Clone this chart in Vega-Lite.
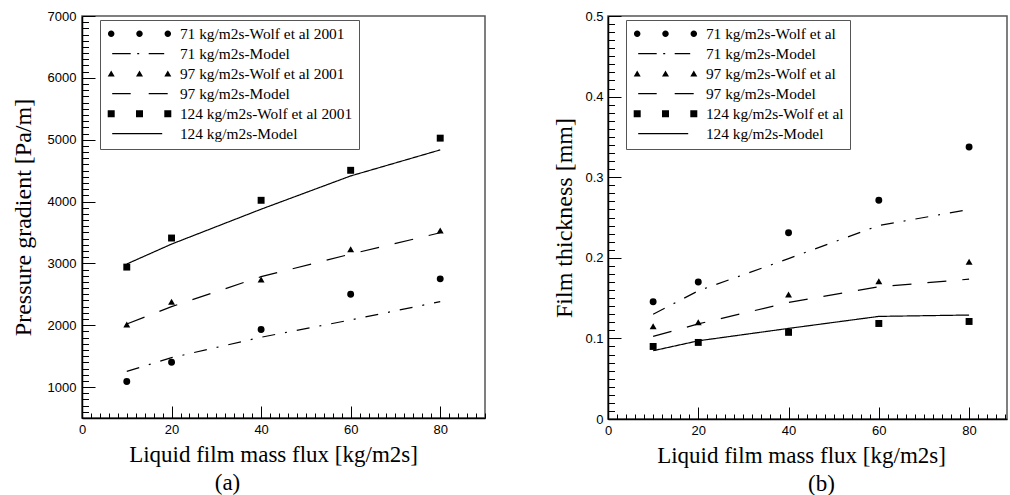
{
  "$schema": "https://vega.github.io/schema/vega-lite/v6.json",
  "padding": {"left": 10, "top": 9, "right": 0, "bottom": 0},
  "background": "white",
  "datasets": {
    "pressure": [
      {"flux": 10, "value": 1090, "series": "71 kg/m2s-Wolf et al 2001", "kind": "Wolf", "marker": "circle"},
      {"flux": 20, "value": 1400, "series": "71 kg/m2s-Wolf et al 2001", "kind": "Wolf", "marker": "circle"},
      {"flux": 40, "value": 1930, "series": "71 kg/m2s-Wolf et al 2001", "kind": "Wolf", "marker": "circle"},
      {"flux": 60, "value": 2500, "series": "71 kg/m2s-Wolf et al 2001", "kind": "Wolf", "marker": "circle"},
      {"flux": 80, "value": 2750, "series": "71 kg/m2s-Wolf et al 2001", "kind": "Wolf", "marker": "circle"},
      {"flux": 10, "value": 1253, "series": "71 kg/m2s-Model", "kind": "Model", "marker": "none"},
      {"flux": 20, "value": 1475, "series": "71 kg/m2s-Model", "kind": "Model", "marker": "none"},
      {"flux": 40, "value": 1806, "series": "71 kg/m2s-Model", "kind": "Model", "marker": "none"},
      {"flux": 60, "value": 2085, "series": "71 kg/m2s-Model", "kind": "Model", "marker": "none"},
      {"flux": 80, "value": 2382, "series": "71 kg/m2s-Model", "kind": "Model", "marker": "none"},
      {"flux": 10, "value": 2010, "series": "97 kg/m2s-Wolf et al 2001", "kind": "Wolf", "marker": "triangle"},
      {"flux": 20, "value": 2380, "series": "97 kg/m2s-Wolf et al 2001", "kind": "Wolf", "marker": "triangle"},
      {"flux": 40, "value": 2740, "series": "97 kg/m2s-Wolf et al 2001", "kind": "Wolf", "marker": "triangle"},
      {"flux": 60, "value": 3230, "series": "97 kg/m2s-Wolf et al 2001", "kind": "Wolf", "marker": "triangle"},
      {"flux": 80, "value": 3530, "series": "97 kg/m2s-Wolf et al 2001", "kind": "Wolf", "marker": "triangle"},
      {"flux": 10, "value": 2020, "series": "97 kg/m2s-Model", "kind": "Model", "marker": "none"},
      {"flux": 20, "value": 2300, "series": "97 kg/m2s-Model", "kind": "Model", "marker": "none"},
      {"flux": 40, "value": 2785, "series": "97 kg/m2s-Model", "kind": "Model", "marker": "none"},
      {"flux": 60, "value": 3150, "series": "97 kg/m2s-Model", "kind": "Model", "marker": "none"},
      {"flux": 80, "value": 3495, "series": "97 kg/m2s-Model", "kind": "Model", "marker": "none"},
      {"flux": 10, "value": 2940, "series": "124 kg/m2s-Wolf et al 2001", "kind": "Wolf", "marker": "square"},
      {"flux": 20, "value": 3410, "series": "124 kg/m2s-Wolf et al 2001", "kind": "Wolf", "marker": "square"},
      {"flux": 40, "value": 4020, "series": "124 kg/m2s-Wolf et al 2001", "kind": "Wolf", "marker": "square"},
      {"flux": 60, "value": 4505, "series": "124 kg/m2s-Wolf et al 2001", "kind": "Wolf", "marker": "square"},
      {"flux": 80, "value": 5025, "series": "124 kg/m2s-Wolf et al 2001", "kind": "Wolf", "marker": "square"},
      {"flux": 10, "value": 2990, "series": "124 kg/m2s-Model", "kind": "Model", "marker": "none"},
      {"flux": 20, "value": 3312, "series": "124 kg/m2s-Model", "kind": "Model", "marker": "none"},
      {"flux": 40, "value": 3876, "series": "124 kg/m2s-Model", "kind": "Model", "marker": "none"},
      {"flux": 60, "value": 4414, "series": "124 kg/m2s-Model", "kind": "Model", "marker": "none"},
      {"flux": 80, "value": 4835, "series": "124 kg/m2s-Model", "kind": "Model", "marker": "none"}
    ],
    "film": [
      {"flux": 10, "value": 0.1455, "series": "71 kg/m2s-Wolf et al", "kind": "Wolf", "marker": "circle"},
      {"flux": 20, "value": 0.170, "series": "71 kg/m2s-Wolf et al", "kind": "Wolf", "marker": "circle"},
      {"flux": 40, "value": 0.231, "series": "71 kg/m2s-Wolf et al", "kind": "Wolf", "marker": "circle"},
      {"flux": 60, "value": 0.2715, "series": "71 kg/m2s-Wolf et al", "kind": "Wolf", "marker": "circle"},
      {"flux": 80, "value": 0.3375, "series": "71 kg/m2s-Wolf et al", "kind": "Wolf", "marker": "circle"},
      {"flux": 10, "value": 0.130, "series": "71 kg/m2s-Model", "kind": "Model", "marker": "none"},
      {"flux": 20, "value": 0.159, "series": "71 kg/m2s-Model", "kind": "Model", "marker": "none"},
      {"flux": 40, "value": 0.199, "series": "71 kg/m2s-Model", "kind": "Model", "marker": "none"},
      {"flux": 60, "value": 0.240, "series": "71 kg/m2s-Model", "kind": "Model", "marker": "none"},
      {"flux": 80, "value": 0.260, "series": "71 kg/m2s-Model", "kind": "Model", "marker": "none"},
      {"flux": 10, "value": 0.115, "series": "97 kg/m2s-Wolf et al", "kind": "Wolf", "marker": "triangle"},
      {"flux": 20, "value": 0.120, "series": "97 kg/m2s-Wolf et al", "kind": "Wolf", "marker": "triangle"},
      {"flux": 40, "value": 0.1545, "series": "97 kg/m2s-Wolf et al", "kind": "Wolf", "marker": "triangle"},
      {"flux": 60, "value": 0.171, "series": "97 kg/m2s-Wolf et al", "kind": "Wolf", "marker": "triangle"},
      {"flux": 80, "value": 0.195, "series": "97 kg/m2s-Wolf et al", "kind": "Wolf", "marker": "triangle"},
      {"flux": 10, "value": 0.1025, "series": "97 kg/m2s-Model", "kind": "Model", "marker": "none"},
      {"flux": 20, "value": 0.118, "series": "97 kg/m2s-Model", "kind": "Model", "marker": "none"},
      {"flux": 40, "value": 0.1445, "series": "97 kg/m2s-Model", "kind": "Model", "marker": "none"},
      {"flux": 60, "value": 0.164, "series": "97 kg/m2s-Model", "kind": "Model", "marker": "none"},
      {"flux": 80, "value": 0.1735, "series": "97 kg/m2s-Model", "kind": "Model", "marker": "none"},
      {"flux": 10, "value": 0.090, "series": "124 kg/m2s-Wolf et al", "kind": "Wolf", "marker": "square"},
      {"flux": 20, "value": 0.095, "series": "124 kg/m2s-Wolf et al", "kind": "Wolf", "marker": "square"},
      {"flux": 40, "value": 0.1075, "series": "124 kg/m2s-Wolf et al", "kind": "Wolf", "marker": "square"},
      {"flux": 60, "value": 0.1185, "series": "124 kg/m2s-Wolf et al", "kind": "Wolf", "marker": "square"},
      {"flux": 80, "value": 0.121, "series": "124 kg/m2s-Wolf et al", "kind": "Wolf", "marker": "square"},
      {"flux": 10, "value": 0.0847, "series": "124 kg/m2s-Model", "kind": "Model", "marker": "none"},
      {"flux": 20, "value": 0.097, "series": "124 kg/m2s-Model", "kind": "Model", "marker": "none"},
      {"flux": 40, "value": 0.1124, "series": "124 kg/m2s-Model", "kind": "Model", "marker": "none"},
      {"flux": 60, "value": 0.1273, "series": "124 kg/m2s-Model", "kind": "Model", "marker": "none"},
      {"flux": 80, "value": 0.129, "series": "124 kg/m2s-Model", "kind": "Model", "marker": "none"}
    ]
  },
  "config": {
    "view": {"stroke": "#555", "strokeWidth": 1.5},
    "axis": {
      "domainColor": "black", "domainWidth": 1.5,
      "labelFont": "Liberation Sans", "labelFontSize": 13, "labelColor": "black",
      "labelFlush": false, "labelOverlap": false,
      "titleFont": "Liberation Serif", "titleFontWeight": "normal", "titleColor": "black"
    },
    "legend": {
      "orient": "none", "legendX": 18, "legendY": 4,
      "strokeColor": "#555", "strokeWidth": 1, "fillColor": "white", "padding": 6,
      "labelFont": "Liberation Serif", "labelFontSize": 15.4, "labelColor": "black", "labelLimit": 400,
      "symbolSize": 100, "labelOffset": 58.5, "rowPadding": 3,
      "symbolStrokeWidth": 0, "symbolFillColor": "black", "symbolOpacity": 1
    },
    "title": {"font": "Liberation Serif", "fontSize": 23, "fontWeight": "normal", "color": "black"}
  },
  "spacing": 66,
  "hconcat": [
    {
      "width": 403,
      "height": 402,
      "title": {"text": "(a)", "orient": "bottom", "dx": -56, "offset": 6},
      "data": {"name": "pressure"},
      "encoding": {
        "x": {
          "field": "flux", "type": "quantitative",
          "scale": {"domain": [0, 90], "nice": false, "zero": false},
          "axis": {
            "title": "Liquid film mass flux [kg/m2s]", "titleFontSize": 23,
            "values": [0,2,4,6,8,10,12,14,16,18,20,22,24,26,28,30,32,34,36,38,40,42,44,46,48,50,52,54,56,58,60,62,64,66,68,70,72,74,76,78,80,82,84,86,88,90],
            "format": "d",
            "labelExpr": "datum.value % 20 === 0 ? datum.label : ''",
            "ticks": false, "tickSize": 0,
            "grid": true, "gridColor": "black", "gridWidth": 1, "gridOpacity": 1,
            "gridDash": {"condition": {"test": "datum.value % 20 === 0", "value": [12, 390]}, "value": [5, 397]},
            "gridDashOffset": {"condition": {"test": "datum.value % 20 === 0", "value": 12}, "value": 5},
            "labelPadding": 5, "titlePadding": 7, "titleX": 191
          }
        },
        "y": {
          "field": "value", "type": "quantitative",
          "scale": {"domain": [500, 7000], "nice": false, "zero": false},
          "axis": {
            "title": "Pressure gradient [Pa/m]", "titleFontSize": 24,
            "values": [500,600,700,800,900,1000,1100,1200,1300,1400,1500,1600,1700,1800,1900,2000,2100,2200,2300,2400,2500,2600,2700,2800,2900,3000,3100,3200,3300,3400,3500,3600,3700,3800,3900,4000,4100,4200,4300,4400,4500,4600,4700,4800,4900,5000,5100,5200,5300,5400,5500,5600,5700,5800,5900,6000,6100,6200,6300,6400,6500,6600,6700,6800,6900,7000],
            "format": "d",
            "labelExpr": "datum.value % 1000 === 0 ? datum.label : ''",
            "ticks": false, "tickSize": 0,
            "grid": true, "gridColor": "black", "gridWidth": 1, "gridOpacity": 1,
            "gridDash": {"condition": {"test": "datum.value % 1000 === 0", "value": [13, 600]}, "value": [6.5, 600]},
            "labelPadding": 6, "titlePadding": 12
          }
        }
      },
      "layer": [
        {
          "transform": [{"filter": "datum.kind === 'Model'"}],
          "mark": {"type": "line", "color": "black", "strokeWidth": 1.2},
          "encoding": {
            "strokeDash": {
              "field": "series", "type": "nominal",
              "scale": {"domain": ["71 kg/m2s-Model", "97 kg/m2s-Model", "124 kg/m2s-Model"], "range": [[13, 10, 2, 10], [19, 16], [1, 0]]},
              "legend": null
            }
          }
        },
        {
          "transform": [{"filter": "datum.kind === 'Wolf'"}],
          "mark": {"type": "point", "filled": true, "color": "black", "opacity": 1, "size": 48},
          "encoding": {
            "shape": {
              "field": "marker", "type": "nominal",
              "scale": {"domain": ["circle", "triangle", "square"], "range": ["circle", "triangle-up", "square"]},
              "legend": null
            }
          }
        },
        {
          "mark": {"type": "point", "filled": true, "color": "black", "opacity": 0},
          "encoding": {
            "shape": {
              "field": "series", "type": "nominal",
              "scale": {
                "domain": ["71 kg/m2s-Wolf et al 2001", "71 kg/m2s-Model", "97 kg/m2s-Wolf et al 2001", "97 kg/m2s-Model", "124 kg/m2s-Wolf et al 2001", "124 kg/m2s-Model"],
                "range": [
                  "M-1.15,0A0.65 0.65 0 1 0 0.15,0A0.65 0.65 0 1 0 -1.15,0ZM4.51,0A0.65 0.65 0 1 0 5.81,0A0.65 0.65 0 1 0 4.51,0ZM10.17,0A0.65 0.65 0 1 0 11.47,0A0.65 0.65 0 1 0 10.17,0Z",
                  "M-0.3,-0.12H3.4V0.12H-0.3ZM4.7,-0.12H5.1V0.12H4.7ZM7,-0.12H10.1V0.12H7Z",
                  "M-1.2,0.55L-0.5,-0.65L0.2,0.55ZM4.46,0.55L5.16,-0.65L5.86,0.55ZM10.12,0.55L10.82,-0.65L11.52,0.55Z",
                  "M-0.3,-0.12H3.4V0.12H-0.3ZM7,-0.12H10.8V0.12H7Z",
                  "M-1.2,-0.7H0.2V0.7H-1.2ZM4.46,-0.7H5.86V0.7H4.46ZM10.12,-0.7H11.52V0.7H10.12Z",
                  "M-0.3,-0.12H9.7V0.12H-0.3Z"
                ]
              },
              "legend": {
                "title": null,
                "encode": {"symbols": {"update": {"opacity": {"value": 1}, "fill": {"value": "black"}, "strokeWidth": {"value": 0}}}}
              }
            }
          }
        }
      ],
      "resolve": {"scale": {"shape": "independent"}}
    },
    {
      "width": 399,
      "height": 403,
      "title": {"text": "(b)", "orient": "bottom", "dx": 14, "offset": 6},
      "data": {"name": "film"},
      "encoding": {
        "x": {
          "field": "flux", "type": "quantitative",
          "scale": {"domain": [0, 88.4], "nice": false, "zero": false},
          "axis": {
            "title": "Liquid film mass flux [kg/m2s]", "titleFontSize": 23,
            "values": [0,2,4,6,8,10,12,14,16,18,20,22,24,26,28,30,32,34,36,38,40,42,44,46,48,50,52,54,56,58,60,62,64,66,68,70,72,74,76,78,80,82,84,86,88],
            "format": "d",
            "labelExpr": "datum.value % 20 === 0 ? datum.label : ''",
            "ticks": false, "tickSize": 0,
            "grid": true, "gridColor": "black", "gridWidth": 1, "gridOpacity": 1,
            "gridDash": {"condition": {"test": "datum.value % 20 === 0", "value": [12, 391]}, "value": [5, 398]},
            "gridDashOffset": {"condition": {"test": "datum.value % 20 === 0", "value": 12}, "value": 5},
            "labelPadding": 5, "titlePadding": 7, "titleX": 193
          }
        },
        "y": {
          "field": "value", "type": "quantitative",
          "scale": {"domain": [0, 0.5], "nice": false, "zero": false},
          "axis": {
            "title": "Film thickness [mm]", "titleFontSize": 24,
            "values": [0,0.01,0.02,0.03,0.04,0.05,0.06,0.07,0.08,0.09,0.1,0.11,0.12,0.13,0.14,0.15,0.16,0.17,0.18,0.19,0.2,0.21,0.22,0.23,0.24,0.25,0.26,0.27,0.28,0.29,0.3,0.31,0.32,0.33,0.34,0.35,0.36,0.37,0.38,0.39,0.4,0.41,0.42,0.43,0.44,0.45,0.46,0.47,0.48,0.49,0.5],
            "format": ".1~f",
            "labelExpr": "abs(datum.value * 10 - round(datum.value * 10)) < 0.000001 ? datum.label : ''",
            "ticks": false, "tickSize": 0,
            "grid": true, "gridColor": "black", "gridWidth": 1, "gridOpacity": 1,
            "gridDash": {"condition": {"test": "abs(datum.value * 10 - round(datum.value * 10)) < 0.000001", "value": [13, 600]}, "value": [6.5, 600]},
            "labelPadding": 5, "titlePadding": 8
          }
        }
      },
      "layer": [
        {
          "transform": [{"filter": "datum.kind === 'Model'"}],
          "mark": {"type": "line", "color": "black", "strokeWidth": 1.2},
          "encoding": {
            "strokeDash": {
              "field": "series", "type": "nominal",
              "scale": {"domain": ["71 kg/m2s-Model", "97 kg/m2s-Model", "124 kg/m2s-Model"], "range": [[13, 10, 2, 10], [19, 16], [1, 0]]},
              "legend": null
            }
          }
        },
        {
          "transform": [{"filter": "datum.kind === 'Wolf'"}],
          "mark": {"type": "point", "filled": true, "color": "black", "opacity": 1, "size": 48},
          "encoding": {
            "shape": {
              "field": "marker", "type": "nominal",
              "scale": {"domain": ["circle", "triangle", "square"], "range": ["circle", "triangle-up", "square"]},
              "legend": null
            }
          }
        },
        {
          "mark": {"type": "point", "filled": true, "color": "black", "opacity": 0},
          "encoding": {
            "shape": {
              "field": "series", "type": "nominal",
              "scale": {
                "domain": ["71 kg/m2s-Wolf et al", "71 kg/m2s-Model", "97 kg/m2s-Wolf et al", "97 kg/m2s-Model", "124 kg/m2s-Wolf et al", "124 kg/m2s-Model"],
                "range": [
                  "M-1.15,0A0.65 0.65 0 1 0 0.15,0A0.65 0.65 0 1 0 -1.15,0ZM4.51,0A0.65 0.65 0 1 0 5.81,0A0.65 0.65 0 1 0 4.51,0ZM10.17,0A0.65 0.65 0 1 0 11.47,0A0.65 0.65 0 1 0 10.17,0Z",
                  "M-0.3,-0.12H3.4V0.12H-0.3ZM4.7,-0.12H5.1V0.12H4.7ZM7,-0.12H10.1V0.12H7Z",
                  "M-1.2,0.55L-0.5,-0.65L0.2,0.55ZM4.46,0.55L5.16,-0.65L5.86,0.55ZM10.12,0.55L10.82,-0.65L11.52,0.55Z",
                  "M-0.3,-0.12H3.4V0.12H-0.3ZM7,-0.12H10.8V0.12H7Z",
                  "M-1.2,-0.7H0.2V0.7H-1.2ZM4.46,-0.7H5.86V0.7H4.46ZM10.12,-0.7H11.52V0.7H10.12Z",
                  "M-0.3,-0.12H9.7V0.12H-0.3Z"
                ]
              },
              "legend": {
                "title": null,
                "encode": {"symbols": {"update": {"opacity": {"value": 1}, "fill": {"value": "black"}, "strokeWidth": {"value": 0}}}}
              }
            }
          }
        }
      ],
      "resolve": {"scale": {"shape": "independent"}}
    }
  ]
}
